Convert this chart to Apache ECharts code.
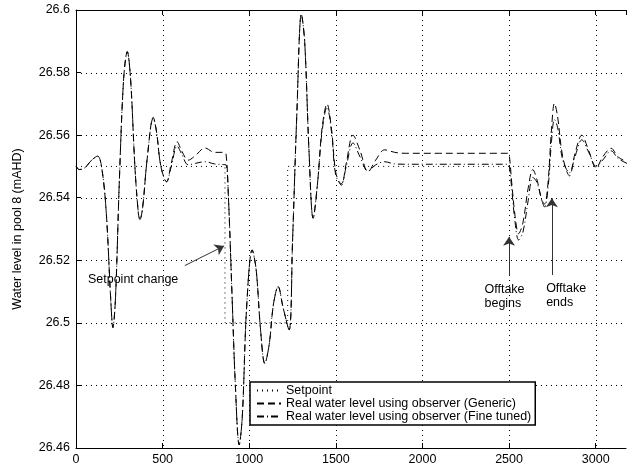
<!DOCTYPE html>
<html>
<head>
<meta charset="utf-8">
<script src="https://cdn.jsdelivr.net/npm/echarts@6/dist/echarts.min.js"></script>
<style>html,body{margin:0;padding:0;background:#fff}#c{width:627px;height:467px}</style>
</head>
<body>
<div id="c"></div>
<script>
// ---- data ----
const xTicks = [0, 500, 1000, 1500, 2000, 2500, 3000];
const yTicks = [26.46, 26.48, 26.5, 26.52, 26.54, 26.56, 26.58, 26.6];
const seriesNames = ['Setpoint', 'Real water level using observer (Generic)', 'Real water level using observer (Fine tuned)'];

const setpointT = [0, 860, 860, 1222, 1222, 3200];
const setpointV = [26.55, 26.55, 26.50, 26.50, 26.55, 26.55];

const time = [0,20,50,90,125,150,175,200,213,228,250,275,296,315,340,360,369,385,410,446,465,490,523,550,584,610,648,690,744,800,850,866,880,900,920,942,960,985,1017,1040,1065,1090,1115,1140,1167,1195,1230,1250,1275,1301,1320,1345,1369,1395,1420,1449,1475,1500,1532,1560,1599,1640,1686,1730,1782,1840,1900,2000,2100,2200,2300,2400,2490,2500,2515,2535,2555,2580,2610,2637,2660,2690,2705,2725,2745,2762,2780,2810,2849,2880,2920,2960,3003,3040,3089,3130,3200];

const genericV = [26.550,26.549,26.5495,26.552,26.5533,26.549,26.535,26.508,26.4985,26.508,26.545,26.578,26.5867,26.578,26.55,26.535,26.533,26.537,26.552,26.5657,26.561,26.55,26.5451,26.551,26.5579,26.555,26.552,26.5535,26.5559,26.5545,26.5545,26.554,26.54,26.51,26.48,26.461,26.47,26.505,26.5233,26.517,26.498,26.487,26.493,26.506,26.5116,26.505,26.4977,26.526,26.567,26.5987,26.59,26.555,26.5334,26.545,26.562,26.57,26.562,26.548,26.544,26.551,26.56,26.555,26.5483,26.552,26.5553,26.5545,26.5542,26.5542,26.5542,26.5542,26.5542,26.5542,26.5542,26.554,26.545,26.534,26.5285,26.532,26.543,26.549,26.546,26.539,26.538,26.545,26.562,26.5702,26.566,26.553,26.547,26.554,26.56,26.555,26.5495,26.553,26.5558,26.553,26.551];

const fineV = [26.550,26.549,26.5495,26.552,26.5533,26.549,26.535,26.508,26.4985,26.508,26.545,26.578,26.5867,26.578,26.55,26.535,26.533,26.537,26.552,26.5655,26.561,26.55,26.5451,26.55,26.5565,26.554,26.5505,26.551,26.5515,26.5508,26.5506,26.5505,26.54,26.51,26.48,26.461,26.47,26.505,26.5233,26.517,26.498,26.487,26.493,26.506,26.5116,26.505,26.4977,26.526,26.567,26.5987,26.59,26.555,26.5334,26.545,26.561,26.569,26.561,26.547,26.5445,26.55,26.5575,26.553,26.5485,26.5505,26.5515,26.5508,26.5507,26.5507,26.5507,26.5507,26.5507,26.5507,26.5507,26.5505,26.543,26.532,26.5265,26.529,26.539,26.5465,26.545,26.539,26.537,26.543,26.558,26.565,26.5625,26.552,26.548,26.553,26.5585,26.5545,26.550,26.552,26.555,26.5525,26.5505];

// annotations (data coordinates)
const arrowSetpoint = [[628, 26.5183], [855, 26.5246]];
const arrowOfftakeBegins = [[2500, 26.5151], [2500, 26.5275]];
const arrowOfftakeEnds = [[2747, 26.5153], [2747, 26.5398]];
const notes = [
  {text: 'Setpoint change', at: [69, 26.514]},
  {text: 'Offtake\nbegins', at: [2358, 26.5085]},
  {text: 'Offtake\nends', at: [2714, 26.5088]}
];

(function () {
  const zip = (a, b) => a.map((v, i) => [v, b[i]]);
  const font = '"Liberation Sans", Arial, Helvetica, sans-serif';
  const FS = 12.5;
  const X_MAX = 3175;
  const chart = echarts.init(document.getElementById('c'));
  const fmtY = v => String(parseFloat(v.toFixed(2)));

  const option = {
    animation: false,
    grid: {left: 76, right: 1, top: 10, bottom: 19},
    xAxis: [{
      type: 'value', min: 0, max: X_MAX, interval: 500,
      axisLine: {show: true, onZero: false, lineStyle: {color: '#000', width: 1}},
      axisTick: {show: true, inside: true, length: 5, lineStyle: {color: '#000'}},
      axisLabel: {fontSize: FS, color: '#000', margin: 5, fontFamily: font, showMaxLabel: false,
        formatter: v => String(v)},
      splitLine: {show: false}
    }, {
      type: 'value', position: 'top', min: 0, max: X_MAX, interval: 500,
      axisLine: {show: true, onZero: false, lineStyle: {color: '#000', width: 1}},
      axisTick: {show: true, inside: true, length: 5, lineStyle: {color: '#000'}},
      axisLabel: {show: false},
      splitLine: {show: false}
    }],
    yAxis: [{
      type: 'value', min: 26.46, max: 26.6, interval: 0.02,
      name: 'Water level in pool 8 (mAHD)', nameLocation: 'middle', nameGap: 52,
      nameTextStyle: {fontSize: FS, color: '#000', fontFamily: font},
      axisLine: {show: true, onZero: false, lineStyle: {color: '#000', width: 1}},
      axisTick: {show: true, inside: true, length: 5, lineStyle: {color: '#000'}},
      axisLabel: {fontSize: FS, color: '#000', margin: 6, fontFamily: font, formatter: fmtY},
      splitLine: {show: false}
    }],
    legend: {
      show: true, orient: 'vertical', left: 250, top: 382,
      data: seriesNames,
      itemWidth: 24, itemHeight: 14, itemGap: 0,
      padding: [2, 4, 2, 6],
      backgroundColor: '#fff', borderColor: '#000', borderWidth: 1.5, borderRadius: 0,
      itemStyle: {color: 'rgba(0,0,0,0)', borderColor: 'rgba(0,0,0,0)', borderWidth: 0},
      textStyle: {fontSize: FS, color: '#000', fontFamily: font},
      z: 20
    },
    series: [{
      name: seriesNames[0], type: 'line', data: zip(setpointT, setpointV),
      showSymbol: false, symbol: 'none', symbolSize: 0,
      lineStyle: {color: '#000', width: 1, type: [1, 4]},
      itemStyle: {color: '#000'},
      markLine: {
        silent: true, symbol: ['none', 'arrow'], symbolSize: 9,
        lineStyle: {color: '#333', width: 1, type: 'solid'},
        label: {show: false},
        data: [
          [{coord: arrowSetpoint[0]}, {coord: arrowSetpoint[1]}],
          [{coord: arrowOfftakeBegins[0]}, {coord: arrowOfftakeBegins[1]}],
          [{coord: arrowOfftakeEnds[0]}, {coord: arrowOfftakeEnds[1]}]
        ]
      },
      markPoint: {
        silent: true, symbol: 'circle', symbolSize: 0,
        label: {show: true, position: 'inside', align: 'left', verticalAlign: 'middle',
          fontSize: FS, color: '#000', fontFamily: font, lineHeight: 14,
          formatter: p => p.name},
        data: notes.map(n => ({name: n.text, coord: n.at}))
      }
    }, {
      name: seriesNames[1], type: 'line', data: zip(time, genericV),
      showSymbol: false, symbol: 'none', symbolSize: 0, smooth: 0.35,
      lineStyle: {color: '#000', width: 1, type: [7, 4]},
      itemStyle: {color: '#000'}
    }, {
      name: seriesNames[2], type: 'line', data: zip(time, fineV),
      showSymbol: false, symbol: 'none', symbolSize: 0, smooth: 0.35,
      lineStyle: {color: '#000', width: 1, type: [7, 3, 1, 3]},
      itemStyle: {color: '#000'}
    }]
  };
  chart.setOption(option);

  // dotted grid lines at the tick values, positioned through the axes' own scales
  try {
    const px = v => chart.convertToPixel({xAxisIndex: 0}, v);
    const py = v => chart.convertToPixel({yAxisIndex: 0}, v);
    const gLeft = px(0), gRight = px(X_MAX), gTop = py(26.6), gBottom = py(26.46);
    const crisp = p => Math.round(p) + 0.5;
    const gridEls = [];
    xTicks.slice(1).forEach(v => {
      const gx = crisp(px(v));
      gridEls.push({type: 'line', silent: true, z: 3,
        shape: {x1: gx, y1: gTop, x2: gx, y2: gBottom},
        style: {stroke: '#000', lineWidth: 1, lineDash: [1, 4]}});
    });
    yTicks.slice(1, -1).forEach(v => {
      const gy = crisp(py(v));
      gridEls.push({type: 'line', silent: true, z: 3,
        shape: {x1: gLeft, y1: gy, x2: gRight, y2: gy},
        style: {stroke: '#000', lineWidth: 1, lineDash: [1, 4]}});
    });
    chart.setOption({graphic: {elements: gridEls}});
  } catch (e) {
    console.error(e);
  }
})();
</script>
</body>
</html>
